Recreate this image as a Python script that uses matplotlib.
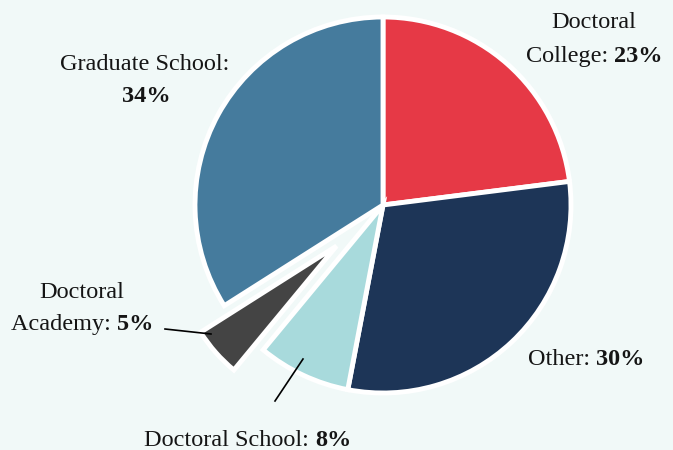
import matplotlib
matplotlib.use("Agg")
import matplotlib.pyplot as plt

labels = ["Doctoral College", "Other", "Doctoral School", "Doctoral Academy", "Graduate School"]
values = [23, 30, 8, 5, 34]
colors = ["#E63946", "#1D3557", "#A8DADC", "#444444", "#457B9D"]

W, H = 673, 450
BG = "#F1F9F8"
FONT = "Liberation Serif"
FS = 17.5

fig = plt.figure(figsize=(W / 100, H / 100), dpi=100, facecolor=BG)
ax = fig.add_axes([0, 0, 1, 1])
ax.set_facecolor(BG)

cx, cy, r = 383, H - 205, 188
pull = 62          # pull-out distance of the highlighted slice (pixels)
explode = [0, 0, 0, pull, 0]
wedges, _ = ax.pie(values, colors=colors, explode=explode, startangle=90,
                   counterclock=False, center=(cx, cy), radius=r, frame=True,
                   wedgeprops=dict(edgecolor="white", linewidth=3.5))
wedges[3].set_radius(161)
ax.set_xlim(0, W)
ax.set_ylim(0, H)
ax.axis("off")

renderer = fig.canvas.get_renderer()


def mixed(xc, y_screen, parts):
    y = H - y_screen
    objs = []
    widths = []
    for txt, wt in parts:
        t = ax.text(0, y, txt, fontsize=FS, fontweight=wt, family=FONT,
                    ha="left", va="baseline", color="#151515")
        objs.append(t)
        widths.append(t.get_window_extent(renderer).width)
    total = sum(widths)
    x = xc - total / 2
    for t, w in zip(objs, widths):
        t.set_x(x)
        x += w


pcts = [f"{v}%" for v in values]

mixed(594, 28, [("Doctoral", "normal")])
mixed(594, 62, [("College: ", "normal"), (pcts[0], "bold")])
mixed(586, 365, [("Other: ", "normal"), (pcts[1], "bold")])
mixed(248, 446, [("Doctoral School: ", "normal"), (pcts[2], "bold")])
mixed(82, 298, [("Doctoral", "normal")])
mixed(82, 330, [("Academy: ", "normal"), (pcts[3], "bold")])
mixed(145, 70, [("Graduate School:", "normal")])
mixed(146, 102, [(pcts[4], "bold")])

ax.plot([165, 211], [H - 329, H - 334], color="black", lw=1.2)
ax.plot([275, 303], [H - 401, H - 359], color="black", lw=1.2)

fig.savefig("out.png", dpi=100, facecolor=BG)
